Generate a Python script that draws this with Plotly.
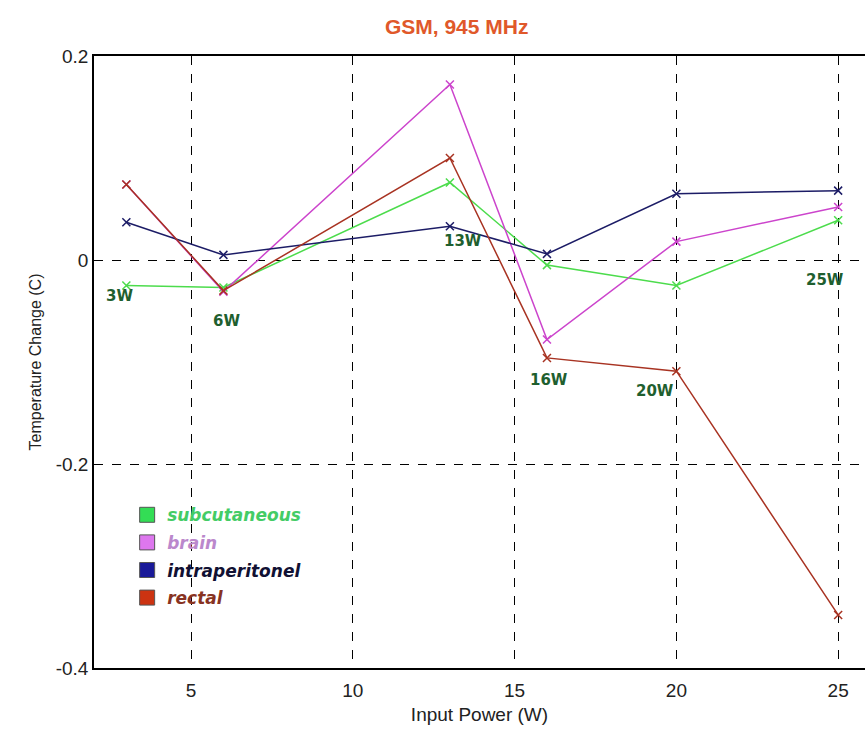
import plotly.graph_objects as go

power = [3, 6, 13, 16, 20, 25]
subcutaneous = [-0.025, -0.027, 0.076, -0.005, -0.025, 0.039]
brain = [0.074, -0.031, 0.172, -0.078, 0.018, 0.052]
intraperitonel = [0.037, 0.005, 0.033, 0.006, 0.065, 0.068]
rectal = [0.074, -0.030, 0.100, -0.096, -0.109, -0.348]

series_names = ["subcutaneous", "brain", "intraperitonel", "rectal"]
series_values = [subcutaneous, brain, intraperitonel, rectal]
line_colors = ["#4cdc4c", "#cc44cc", "#1c1c66", "#a83322"]
square_colors = ["#33dd55", "#dd77ee", "#1a1a99", "#cc3311"]
text_colors = ["#44cc66", "#bb88cc", "#111133", "#883322"]

point_labels = ["3W", "6W", "13W", "16W", "20W", "25W"]
label_x = [2.80, 6.08, 13.41, 16.07, 19.34, 24.6]
label_y = [-0.035, -0.060, 0.019, -0.118, -0.128, -0.020]

x_ticks = [5, 10, 15, 20, 25]
y_ticks = [0.2, 0, -0.2, -0.4]
y_ticktext = ["0.2", "0", "-0.2", "-0.4"]

fig = go.Figure()
for name, vals, lc in zip(series_names, series_values, line_colors):
    fig.add_trace(go.Scatter(
        x=power, y=vals, mode="lines+markers", name=name, showlegend=False,
        line=dict(color=lc, width=1.5),
        marker=dict(symbol="x-thin", size=8, line=dict(color=lc, width=1.5)),
    ))
for i, (name, sc, tc) in enumerate(zip(series_names, square_colors, text_colors)):
    fig.add_trace(go.Scatter(
        x=[None], y=[None], mode="markers", legendgroup=f"g{i}",
        name=f"<b><i><span style='color:{tc}'>{name}</span></i></b>",
        marker=dict(symbol="square", size=15, color=sc, line=dict(color="#555555", width=1)),
    ))

for t, x, y in zip(point_labels, label_x, label_y):
    fig.add_annotation(x=x, y=y, text=f"<b>{t}</b>", showarrow=False,
                       font=dict(family="DejaVu Sans", size=15, color="#1f5f2f"))

fig.update_layout(
    width=865, height=738,
    margin=dict(l=94, r=0, t=56, b=70),
    paper_bgcolor="white", plot_bgcolor="white",
    title=dict(text="<b>GSM, 945 MHz</b>", x=0.528, xanchor="center",
               y=1 - 27 / 738, yanchor="middle", yref="container",
               font=dict(family="Arial", size=21, color="#e0582a")),
    font=dict(family="Arial", color="#222222"),
    legend=dict(x=0.043, y=0.279, xanchor="left", yanchor="top",
                bgcolor="rgba(0,0,0,0)", tracegroupgap=2.5,
                font=dict(family="DejaVu Sans", size=17),
                itemsizing="trace"),
    showlegend=True,
)
fig.update_xaxes(
    range=[2.0, 25.83], tickvals=x_ticks,
    showgrid=True, gridcolor="black", griddash="dash", gridwidth=1.2,
    showline=True, linecolor="black", linewidth=1.5, mirror=True,
    zeroline=False, ticks="", tickfont=dict(size=19, color="#222222"),
    ticklabelstandoff=4,
    title=dict(text="Input Power (W)", font=dict(size=19, color="#222222"), standoff=8),
)
fig.update_yaxes(
    range=[-0.4, 0.2], tickvals=y_ticks, ticktext=y_ticktext,
    showgrid=True, gridcolor="black", griddash="dash", gridwidth=1.2,
    showline=True, linecolor="black", linewidth=1.5, mirror=False,
    zeroline=False, ticks="", tickfont=dict(size=19, color="#222222"),
    title=dict(text="Temperature Change (C)", font=dict(size=16, color="#222222"), standoff=10),
)

fig.write_html("out.html")
